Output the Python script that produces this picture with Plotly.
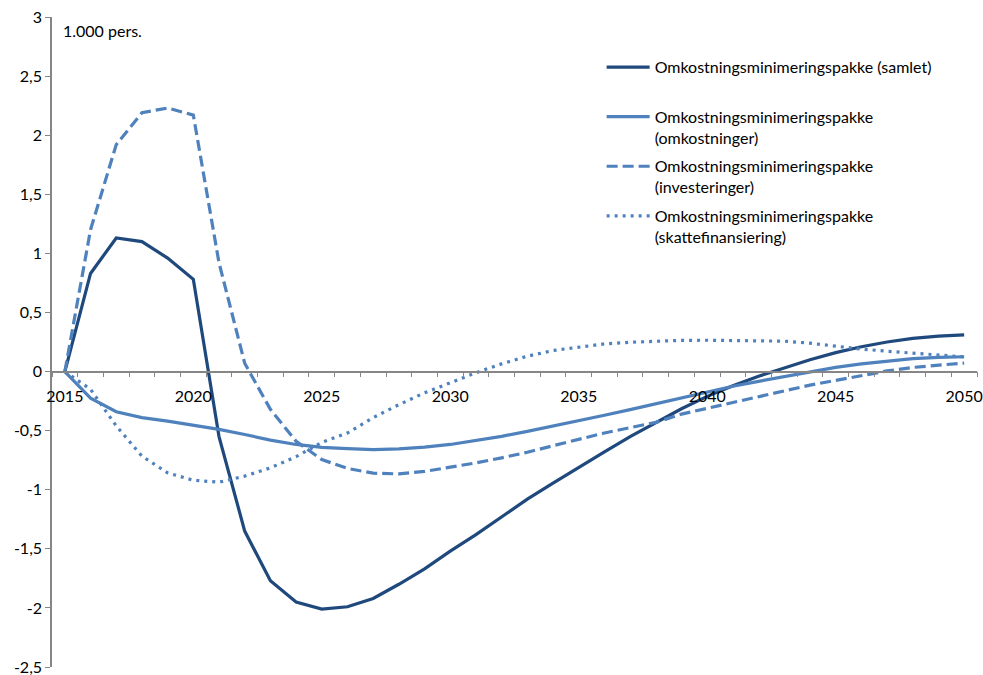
import plotly.graph_objects as go

years = list(range(2015, 2051))

samlet = [0.00, 0.83, 1.13, 1.10, 0.96, 0.78, -0.55, -1.35, -1.77, -1.95,
          -2.01, -1.99, -1.92, -1.80, -1.67, -1.52, -1.38, -1.23, -1.08, -0.945,
          -0.81, -0.68, -0.55, -0.43, -0.315, -0.21, -0.12, -0.04, 0.03, 0.10,
          0.16, 0.21, 0.25, 0.28, 0.30, 0.31]

omkostninger = [0.00, -0.225, -0.34, -0.39, -0.42, -0.454, -0.49, -0.533, -0.58, -0.617,
                -0.642, -0.653, -0.66, -0.655, -0.64, -0.617, -0.585, -0.548, -0.506, -0.463,
                -0.415, -0.37, -0.322, -0.273, -0.223, -0.175, -0.124, -0.083, -0.042, -0.002,
                0.035, 0.065, 0.09, 0.11, 0.12, 0.125]

investeringer = [0.00, 1.20, 1.92, 2.19, 2.23, 2.17, 0.92, 0.07, -0.32, -0.59,
                 -0.745, -0.82, -0.86, -0.866, -0.845, -0.81, -0.773, -0.73, -0.683, -0.628,
                 -0.575, -0.52, -0.475, -0.43, -0.36, -0.31, -0.26, -0.21, -0.16, -0.115,
                 -0.075, -0.035, 0.005, 0.035, 0.055, 0.072]

skattefinansiering = [0.00, -0.15, -0.46, -0.716, -0.857, -0.92, -0.936, -0.885, -0.815, -0.72,
                      -0.60, -0.52, -0.39, -0.28, -0.18, -0.096, -0.01, 0.065, 0.13, 0.178,
                      0.209, 0.234, 0.248, 0.258, 0.264, 0.265, 0.264, 0.262, 0.257, 0.24,
                      0.215, 0.19, 0.172, 0.155, 0.14, 0.124]

series_names = [
    "Omkostningsminimeringspakke (samlet)<br> ",
    "Omkostningsminimeringspakke<br>(omkostninger)",
    "Omkostningsminimeringspakke<br>(investeringer)",
    "Omkostningsminimeringspakke<br>(skattefinansiering)",
]

y_tick_vals = [-2.5, -2, -1.5, -1, -0.5, 0, 0.5, 1, 1.5, 2, 2.5, 3]
y_tick_text = ["-2,5", "-2", "-1,5", "-1", "-0,5", "0", "0,5", "1", "1,5", "2", "2,5", "3"]
x_tick_vals = [2015, 2020, 2025, 2030, 2035, 2040, 2045, 2050]
x_tick_text = [str(v) for v in x_tick_vals]

DARK = "#1F497D"
LIGHT = "#4F81BD"
FONT = "Lato"
FS = 16

fig = go.Figure()
styles = [
    dict(color=DARK, width=3.2, dash="solid"),
    dict(color=LIGHT, width=3.2, dash="solid"),
    dict(color=LIGHT, width=3.2, dash="11px,5px"),
    dict(color=LIGHT, width=3.2, dash="3px,5px"),
]
for i, (name, vals) in enumerate(zip(series_names,
                                     [samlet, omkostninger, investeringer, skattefinansiering])):
    fig.add_trace(go.Scatter(
        x=years, y=vals, mode="lines", name=name,
        line=styles[i], legendgroup=f"g{i}",
    ))

y_min, y_max = -2.5, 3
fig.update_layout(
    width=983, height=675,
    margin=dict(l=52, r=6, t=17, b=8, autoexpand=False),
    paper_bgcolor="white", plot_bgcolor="white",
    font=dict(family=FONT, size=FS, color="#000000"),
    showlegend=True,
    legend=dict(
        x=0.5942, y=0.949, xanchor="left", yanchor="top",
        bgcolor="rgba(0,0,0,0)", font=dict(family=FONT, size=FS, color="#000000"),
        valign="top", tracegroupgap=5, itemwidth=43,
    ),
    xaxis=dict(
        range=[2014.5, 2050.5], anchor="free", position=(0 - y_min) / (y_max - y_min),
        showgrid=False, zeroline=False, showline=True, linecolor="#868686", linewidth=1.5,
        tickvals=x_tick_vals, ticktext=x_tick_text, ticks="outside", ticklen=5,
        tickcolor="rgba(0,0,0,0)", tickfont=dict(family=FONT, size=FS),
        ticklabelstandoff=6, automargin=False,
        minor=dict(tick0=2014.5, dtick=1, ticks="outside", ticklen=5,
                   tickcolor="#868686", tickwidth=1, showgrid=False),
    ),
    yaxis=dict(
        range=[y_min, y_max], showgrid=False, zeroline=False, showline=True,
        linecolor="#868686", linewidth=1.5,
        tickvals=y_tick_vals, ticktext=y_tick_text, ticks="outside", ticklen=5,
        tickcolor="#868686", tickfont=dict(family=FONT, size=FS),
        ticklabeloverflow="allow", automargin=False,
    ),
    annotations=[dict(
        text="1.000 pers.", xref="paper", yref="paper", x=0.01, y=0.98,
        xanchor="left", yanchor="middle", showarrow=False,
        font=dict(family=FONT, size=FS, color="#000000"),
    )],
)

fig.write_html("out.html")
